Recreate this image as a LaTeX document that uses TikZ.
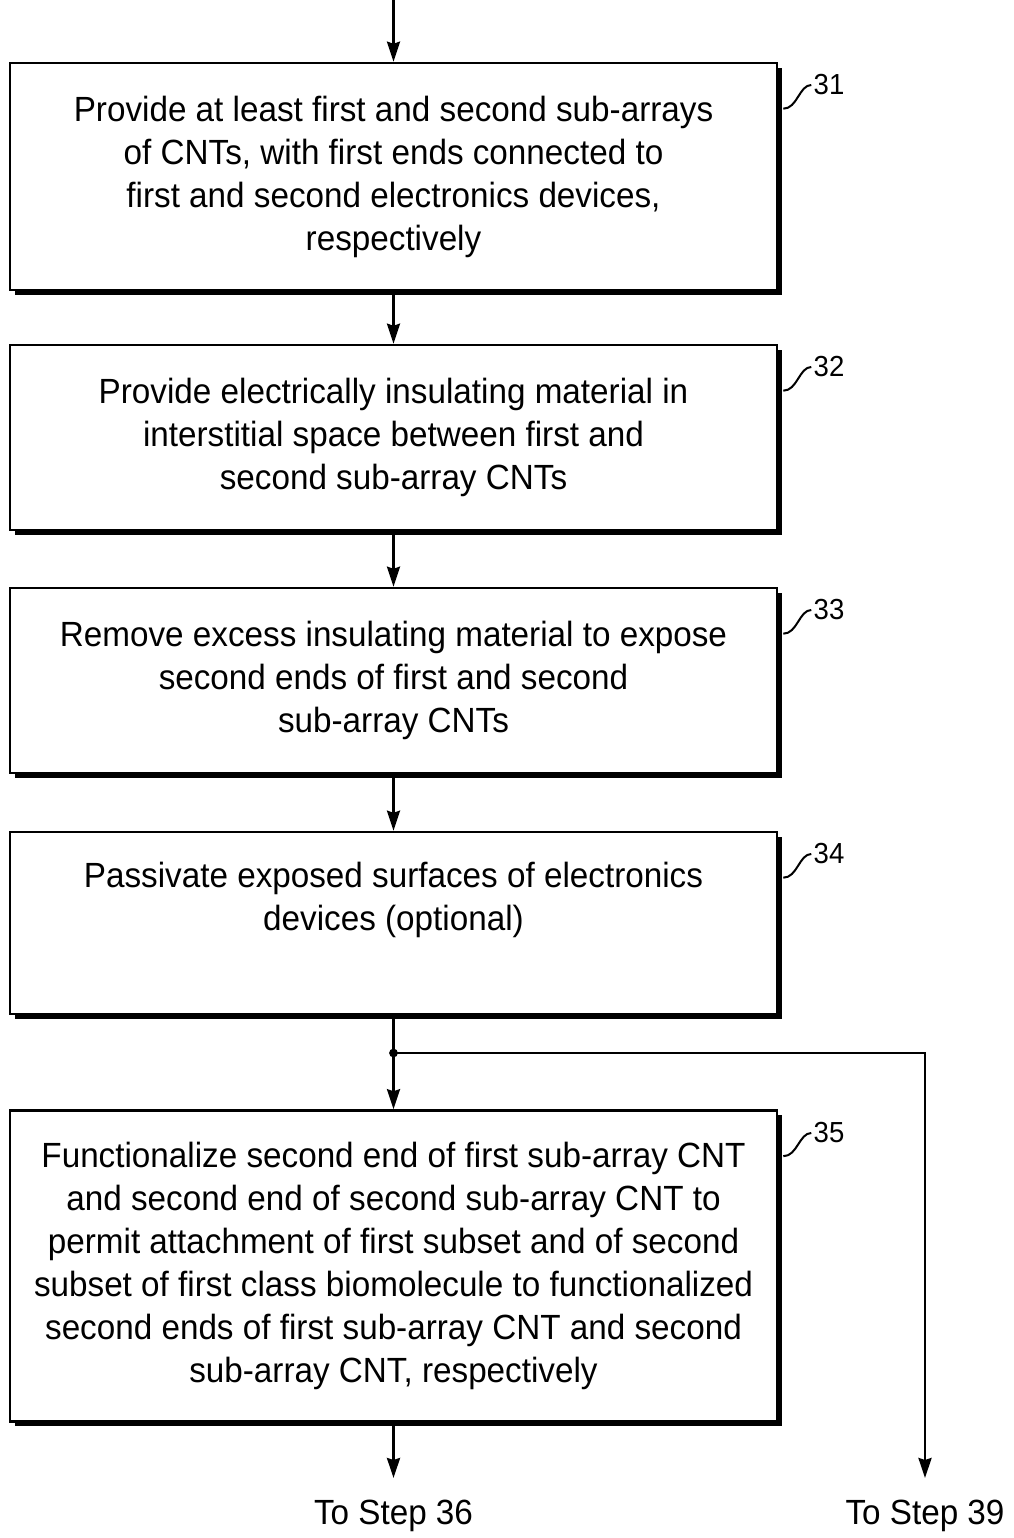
\documentclass[tikz,border=0pt]{standalone}
\usepackage{fontspec}
\setmainfont[FakeStretch=0.95]{Liberation Sans}
\usetikzlibrary{arrows.meta}
\usetikzlibrary{shadows}
\usetikzlibrary{positioning}

\begin{document}
\begin{tikzpicture}[x=0.5pt,y=-0.5pt,
    stepbox/.style={draw,line width=1.3pt,fill=white,align=center,
      minimum width=383.5pt,inner sep=0pt,
      font=\fontsize{17.5}{21.5}\selectfont,
      drop shadow={fill=black,opacity=1,shadow xshift=2.4pt,shadow yshift=-2.4pt}},
    numlabel/.style={inner sep=1pt,font=\fontsize{14.5}{16}\selectfont},
    lead/.style={line width=1pt},
    flow/.style={line width=1.3pt,-{Stealth[length=10pt,width=6.5pt,inset=1pt]}},
    endlabel/.style={inner sep=0pt,font=\fontsize{17.5}{21.5}\selectfont}]
  \useasboundingbox (0,0) rectangle (1013,1538);
  % steps
  \node[stepbox,minimum height=113.5pt] (b31) at (393.5,176.5)
    {Provide at least first and second sub-arrays\\of CNTs, with first ends connected to\\first and second electronics devices,\\respectively};
  \node[stepbox,minimum height=92.5pt] (b32) at (393.5,437.5)
    {Provide electrically insulating material in\\interstitial space between first and\\second sub-array CNTs};
  \node[stepbox,minimum height=92.5pt] (b33) at (393.5,680.5)
    {Remove excess insulating material to expose\\second ends of first and second\\sub-array CNTs};
  \node[stepbox,minimum height=91pt] (b34) at (393.5,923)
    {Passivate exposed surfaces of electronics\\devices (optional)\\[5pt]};
  \node[stepbox,minimum height=155.5pt] (b35) at (393.5,1266)
    {Functionalize second end of first sub-array CNT\\and second end of second sub-array CNT to\\permit attachment of first subset and of second\\subset of first class biomolecule to functionalized\\second ends of first sub-array CNT and second\\sub-array CNT, respectively};
  % reference numerals
  \node[numlabel] (l31) at (829,85) {31};
  \node[numlabel] (l32) at (829,367) {32};
  \node[numlabel] (l33) at (829,610) {33};
  \node[numlabel] (l34) at (829,854) {34};
  \node[numlabel] (l35) at (829,1133) {35};
  \foreach \n in {31,32,33,34,35}
    \draw[lead] ([shift={(5,47)}]b\n.north east) .. controls +(14,0) and +(-12,0) .. (l\n.west);
  % flow
  \coordinate (top) at (393.5,0);
  \coordinate (split) at (393.5,1053);
  \coordinate (e36) at (393.5,1478);
  \coordinate (e39) at (925,1478);
  \node[endlabel,below=11pt of e36] (s36) {To Step 36};
  \node[endlabel,below=11pt of e39] (s39) {To Step 39};
  \draw[flow] (top) -- (b31);
  \draw[flow] (b31) -- (b32);
  \draw[flow] (b32) -- (b33);
  \draw[flow] (b33) -- (b34);
  \draw[line width=1.3pt] (b34) -- (split);
  \fill (split) circle[radius=2.2pt];
  \draw[flow] (split) -- (b35);
  \draw[flow] (split) -| (e39);
  \draw[flow] (b35) -- (e36);
\end{tikzpicture}
\end{document}
